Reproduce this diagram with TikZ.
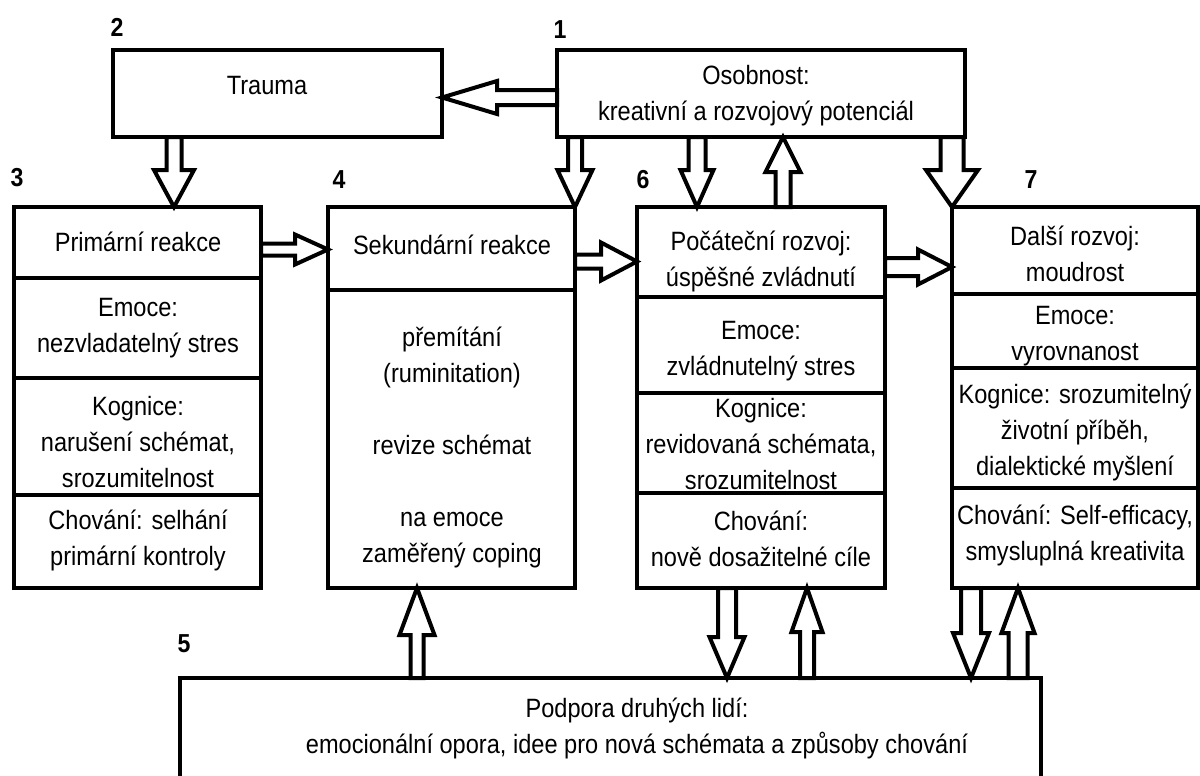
\documentclass[tikz,border=0pt]{standalone}
\usepackage{fontspec}
\setmainfont{Liberation Sans}[FakeStretch=0.89]
\usetikzlibrary{calc,fit,backgrounds}
\tikzset{
  box/.style={draw, line width=2.25pt, inner sep=0pt, outer sep=0pt},
  txt/.style={inner sep=0pt, align=center, font=\fontsize{13.25pt}{18pt}\selectfont},
  num/.style={inner sep=0pt, font=\fontsize{13pt}{14pt}\selectfont\bfseries},
  barr/.style={draw, fill=white, line width=2pt, line join=miter, miter limit=10},
}
% block arrow: start, tip, shaft half width, head half width, head length
\newcommand\blockarr[5]{%
  \coordinate (ba-s) at (#1);
  \coordinate (ba-t) at (#2);
  \coordinate (ba-h) at ($(ba-t)!#5!(ba-s)$);
  \draw[barr] ($(ba-s)!#3!90:(ba-t)$) -- ($(ba-h)!#3!90:(ba-t)$) -- ($(ba-h)!#4!90:(ba-t)$)
    -- (ba-t) -- ($(ba-h)!#4!-90:(ba-t)$) -- ($(ba-h)!#3!-90:(ba-t)$) -- ($(ba-s)!#3!-90:(ba-t)$) -- cycle;
}
\newcommand\bx[3]{\node[box, fit={#2 #3}] (#1) {};}
\begin{document}
\begin{tikzpicture}[x=0.5pt,y=-0.5pt]
\useasboundingbox (0,0) rectangle (1200,776);
% boxes
\bx{trauma}{(113,50)}{(442,137)}
\bx{osob}{(557,50)}{(965,137)}
\bx{b3a}{(14,207)}{(261,278)}
\bx{b3b}{(14,278)}{(261,378)}
\bx{b3c}{(14,378)}{(261,495)}
\bx{b3d}{(14,495)}{(261,588)}
\bx{b4a}{(328,207)}{(575,290)}
\bx{b4b}{(328,290)}{(575,588)}
\bx{b6a}{(637,207)}{(885,297)}
\bx{b6b}{(637,297)}{(885,393)}
\bx{b6c}{(637,393)}{(885,493)}
\bx{b6d}{(637,493)}{(885,588)}
\bx{b7a}{(952,207)}{(1198,294)}
\bx{b7b}{(952,294)}{(1198,368)}
\bx{b7c}{(952,368)}{(1198,488)}
\bx{b7d}{(952,488)}{(1198,588)}
\bx{b5}{(180,678)}{(1041,800)}
% texts
\node[txt] (t2) at (267,86) {Trauma};
\node[txt] (t1) at (756,96) {Osobnost:\\kreativní a rozvojový potenciál};
\node[txt] (t3a) at (138,242) {Primární reakce};
\node[txt] (t3b) at (138,328) {Emoce:\\nezvladatelný stres};
\node[txt] (t3c) at (138,442) {Kognice:\\narušení schémat,\\srozumitelnost};
\node[txt] (t3d) at (138,540) {Chování: selhání\\primární kontroly};
\node[txt] (t4a) at (452,245) {Sekundární reakce};
\node[txt] (t4b) at (452,447) {přemítání\\(ruminitation)\\[18pt]revize schémat\\[18pt]na emoce\\zaměřený coping};
\node[txt] (t6a) at (761,261) {Počáteční rozvoj:\\úspěšné zvládnutí};
\node[txt] (t6b) at (761,351) {Emoce:\\zvládnutelný stres};
\node[txt] (t6c) at (761,444) {Kognice:\\revidovaná schémata,\\srozumitelnost};
\node[txt] (t6d) at (761,539) {Chování:\\nově dosažitelné cíle};
\node[txt] (t7a) at (1075,254) {Další rozvoj:\\moudrost};
\node[txt] (t7b) at (1075,336) {Emoce:\\vyrovnanost};
\node[txt] (t7c) at (1075,432) {Kognice: srozumitelný\\životní příběh,\\dialektické myšlení};
\node[txt] (t7d) at (1075,535) {Chování: Self-efficacy,\\smysluplná kreativita};
\node[txt] (t5) at (637,728) {Podpora druhých lidí:\\emocionální opora, idee pro nová schémata a způsoby chování};
% numbers
\node[num] (n1) at (560,30) {1};
\node[num] (n2) at (117,27) {2};
\node[num] (n3) at (17,178) {3};
\node[num] (n4) at (339,180) {4};
\node[num] (n5) at (184,644) {5};
\node[num] (n6) at (643,180) {6};
\node[num] (n7) at (1031,180) {7};
% arrows
\begin{pgfonlayer}{background}
\blockarr{$(osob.west)+(0,4)$}{$(trauma.east)+(0,4)$}{3.75pt}{8.25pt}{27.5pt}
\coordinate (a2t) at ($(b3a.north west)+(160,0)$);
\blockarr{a2t |- trauma.south}{a2t}{3.75pt}{10pt}{18.5pt}
\blockarr{b4a.north east |- osob.south}{b4a.north east}{3.5pt}{8.75pt}{18.5pt}
\coordinate (a4t) at ($(b6a.north west)+(60,0)$);
\blockarr{a4t |- osob.south}{a4t}{4.25pt}{8.25pt}{18.5pt}
\coordinate (a5s) at ($(b6a.north west)+(146,0)$);
\blockarr{a5s}{a5s |- osob.south}{3.75pt}{8.75pt}{17.5pt}
\blockarr{b7a.north west |- osob.south}{b7a.north west}{5.75pt}{13pt}{18.5pt}
\coordinate (a7s) at ($(b3a.east)+(0,7)$);
\blockarr{a7s}{a7s -| b4a.west}{3pt}{7.5pt}{16.5pt}
\coordinate (a8s) at ($(b4a.east)+(0,13)$);
\blockarr{a8s}{a8s -| b6a.west}{3.5pt}{9.5pt}{18pt}
\coordinate (a9s) at ($(b6a.east)+(0,15)$);
\blockarr{a9s}{a9s -| b7a.west}{4.5pt}{8.75pt}{17pt}
\coordinate (a10t) at ($(b4b.south west)+(89,0)$);
\blockarr{a10t |- b5.north}{a10t}{3.25pt}{8.75pt}{23.5pt}
\coordinate (a11s) at ($(b6d.south west)+(90,0)$);
\blockarr{a11s}{a11s |- b5.north}{4.5pt}{8.75pt}{20.5pt}
\coordinate (a12t) at ($(b6d.south west)+(170,0)$);
\blockarr{a12t |- b5.north}{a12t}{3.5pt}{7.75pt}{22pt}
\coordinate (a13s) at ($(b7d.south west)+(19,0)$);
\blockarr{a13s}{a13s |- b5.north}{5pt}{9pt}{22.5pt}
\coordinate (a14t) at ($(b7d.south west)+(66,0)$);
\blockarr{a14t |- b5.north}{a14t}{4.75pt}{8.25pt}{22.5pt}
\end{pgfonlayer}
\end{tikzpicture}
\end{document}
